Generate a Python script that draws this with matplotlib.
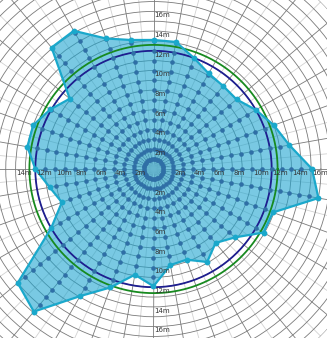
import numpy as np
import matplotlib.pyplot as plt

# polygon vertices: one per spoke, every 10 degrees (counter-clockwise from east)
angles_deg = list(range(0, 360, 10))
radius_m = [16.1, 14.0, 13.0, 12.0, 11.0, 11.0, 11.2, 12.0, 13.1, 13.1,
            13.3, 14.1, 16.2, 16.1, 11.1, 12.1, 13.0, 13.0, 12.0, 10.7,
            9.9, 12.0, 18.0, 18.9, 14.9, 12.8, 10.9, 11.9, 9.9, 9.8,
            10.9, 9.8, 10.8, 12.9, 12.9, 17.0]

ring_labels = [2, 4, 6, 8, 10, 12, 14, 16]
label_angles = [0, 90, 180, 270]
navy_ring = 12.0
green_ring = 12.6

rmax = 24
px_per_m = 9.85
cx, cy = 153.5, 169
W, H = 327, 338
R = rmax * px_per_m

fig = plt.figure(figsize=(W / 100, H / 100), dpi=100)
ax = fig.add_axes([(cx - R) / W, (H - cy - R) / H, 2 * R / W, 2 * R / H],
                  projection="polar")
ax.set_theta_zero_location("E")
ax.set_ylim(0, rmax)
ax.spines["polar"].set_visible(False)
ax.patch.set_alpha(0)

# grid: rings every metre, dark spokes every 10 deg, light ones in between
ax.set_yticks(np.arange(1, rmax + 1))
ax.set_xticks(np.deg2rad(np.arange(0, 360, 10)))
ax.set_xticks(np.deg2rad(np.arange(5, 360, 10)), minor=True)
ax.set_yticklabels([])
ax.set_xticklabels([])
ax.tick_params(length=0, which="both")
ax.grid(True, which="major", color="#7a7a7a", linewidth=0.6)
ax.grid(True, which="minor", axis="x", color="#d2d2d2", linewidth=0.6)
ax.set_axisbelow(True)

theta = np.deg2rad(angles_deg)
th_closed = np.append(theta, theta[0])
r_closed = np.append(radius_m, radius_m[0])

ax.fill(th_closed, r_closed, color="#19a3cf", alpha=0.58, zorder=2, linewidth=0)

# reference rings
ring_t = np.linspace(0, 2 * np.pi, 361)
ax.plot(ring_t, np.full_like(ring_t, navy_ring), color="#1e1e8f", lw=1.3, zorder=3)
ax.plot(ring_t, np.full_like(ring_t, green_ring), color="#178a1f", lw=1.3, zorder=3)

# dots along each spoke at every metre
for t, r in zip(theta, radius_m):
    steps = np.arange(1, np.ceil(r))
    ax.plot(np.full_like(steps, t), steps, "o", color="#2f6fa6", ms=3.3,
            mec="none", zorder=4)

ax.plot(th_closed, r_closed, color="#1aa8cb", lw=1.6, zorder=5)
ax.plot(theta, radius_m, "o", color="#1aa8cb", ms=4.2, mec="none", zorder=6)

for a in label_angles:
    for r in ring_labels:
        # the left 16m label falls outside the canvas
        if a == 180 and r > 14:
            continue
        ax.annotate(f"{r}m", xy=(np.deg2rad(a), r), xytext=(0.6, -0.6),
                    textcoords="offset points", ha="left", va="top",
                    fontsize=5, color="#333333", zorder=7)

fig.savefig("out.png", dpi=100)
